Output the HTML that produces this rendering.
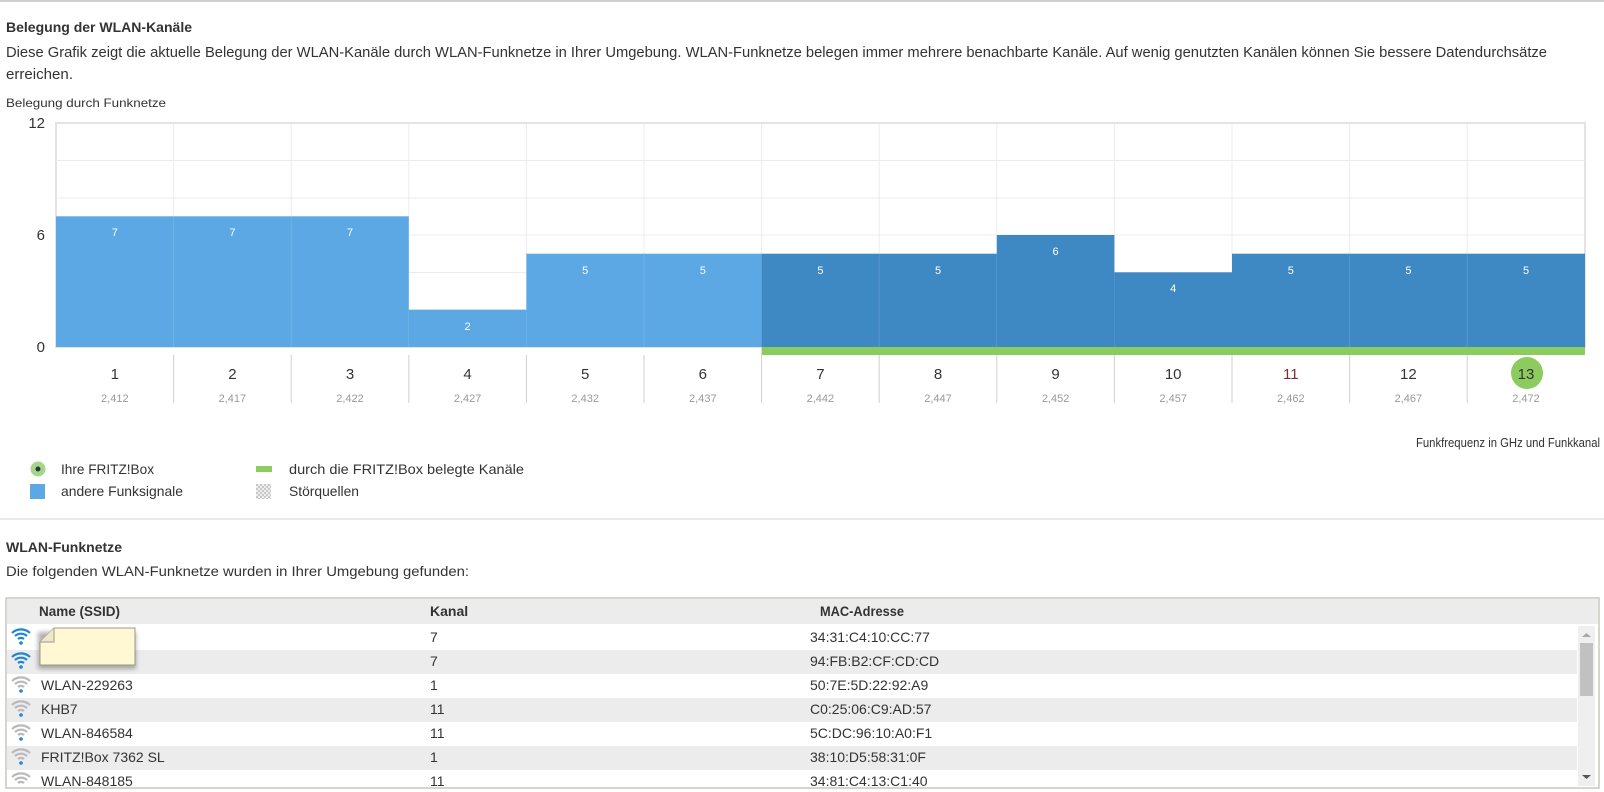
<!DOCTYPE html>
<html><head><meta charset="utf-8"><style>
html,body{margin:0;padding:0;background:#fff;width:1604px;height:792px;overflow:hidden}
svg{display:block;font-family:"Liberation Sans",sans-serif}
</style></head><body>
<svg width="1604" height="792" viewBox="0 0 1604 792" xmlns="http://www.w3.org/2000/svg">
<line x1="0" y1="1" x2="1604" y2="1" stroke="#d0d0d0" stroke-width="2"/>
<text x="6" y="32" font-size="14" font-weight="bold" fill="#333" textLength="186" lengthAdjust="spacingAndGlyphs">Belegung der WLAN-Kanäle</text>
<text x="6" y="57" font-size="15" fill="#333" textLength="1541" lengthAdjust="spacingAndGlyphs">Diese Grafik zeigt die aktuelle Belegung der WLAN-Kanäle durch WLAN-Funknetze in Ihrer Umgebung. WLAN-Funknetze belegen immer mehrere benachbarte Kanäle. Auf wenig genutzten Kanälen können Sie bessere Datendurchsätze</text>
<text x="6" y="79" font-size="15" fill="#333" textLength="67" lengthAdjust="spacingAndGlyphs">erreichen.</text>
<text x="6" y="107" font-size="12" fill="#333" textLength="160" lengthAdjust="spacingAndGlyphs">Belegung durch Funknetze</text>
<g font-size="15" fill="#333" text-anchor="end">
<text x="45" y="128">12</text><text x="45" y="240">6</text><text x="45" y="352">0</text>
</g>
<g id="chart">
<rect x="56" y="123" width="1529" height="224" fill="#fff" stroke="#e3e3e3" stroke-width="2"/>
<g stroke="#ececec" stroke-width="1">
<line x1="56" y1="160.5" x2="1585" y2="160.5"/><line x1="56" y1="198" x2="1585" y2="198"/><line x1="56" y1="235" x2="1585" y2="235"/><line x1="56" y1="272.5" x2="1585" y2="272.5"/><line x1="56" y1="310" x2="1585" y2="310"/>
<line x1="173.6" y1="123" x2="173.6" y2="347"/><line x1="291.2" y1="123" x2="291.2" y2="347"/><line x1="408.8" y1="123" x2="408.8" y2="347"/><line x1="526.4" y1="123" x2="526.4" y2="347"/><line x1="644" y1="123" x2="644" y2="347"/><line x1="761.6" y1="123" x2="761.6" y2="347"/><line x1="879.2" y1="123" x2="879.2" y2="347"/><line x1="996.8" y1="123" x2="996.8" y2="347"/><line x1="1114.4" y1="123" x2="1114.4" y2="347"/><line x1="1232" y1="123" x2="1232" y2="347"/><line x1="1349.6" y1="123" x2="1349.6" y2="347"/><line x1="1467.2" y1="123" x2="1467.2" y2="347"/>
</g>
<g fill="#5ba8e4">
<rect x="56" y="216.3" width="352.8" height="130.7"/>
<rect x="408.8" y="309.7" width="117.6" height="37.3"/>
<rect x="526.4" y="253.7" width="235.2" height="93.3"/>
</g>
<g fill="#3e88c4">
<rect x="761.6" y="253.7" width="235.2" height="93.3"/>
<rect x="996.8" y="235" width="117.6" height="112"/>
<rect x="1114.4" y="272.3" width="117.6" height="74.7"/>
<rect x="1232" y="253.7" width="353" height="93.3"/>
</g>
<g stroke="#ffffff" stroke-opacity="0.12">
<line x1="173.6" y1="216" x2="173.6" y2="347"/><line x1="291.2" y1="216" x2="291.2" y2="347"/><line x1="644" y1="254" x2="644" y2="347"/><line x1="879.2" y1="254" x2="879.2" y2="347"/><line x1="1349.6" y1="254" x2="1349.6" y2="347"/><line x1="1467.2" y1="254" x2="1467.2" y2="347"/>
</g>
<rect x="761.6" y="347" width="823.4" height="8" fill="#8ccc5f"/>
<g font-size="11" fill="#fff" text-anchor="middle">
<text x="114.8" y="236">7</text><text x="232.4" y="236">7</text><text x="350" y="236">7</text><text x="467.6" y="330">2</text><text x="585.2" y="274">5</text><text x="702.8" y="274">5</text><text x="820.4" y="274">5</text><text x="938" y="274">5</text><text x="1055.6" y="255">6</text><text x="1173.2" y="292">4</text><text x="1290.8" y="274">5</text><text x="1408.4" y="274">5</text><text x="1526" y="274">5</text>
</g>
<g stroke="#cfcfcf">
<line x1="173.6" y1="355" x2="173.6" y2="403"/><line x1="291.2" y1="355" x2="291.2" y2="403"/><line x1="408.8" y1="355" x2="408.8" y2="403"/><line x1="526.4" y1="355" x2="526.4" y2="403"/><line x1="644" y1="355" x2="644" y2="403"/><line x1="761.6" y1="355" x2="761.6" y2="403"/><line x1="879.2" y1="355" x2="879.2" y2="403"/><line x1="996.8" y1="355" x2="996.8" y2="403"/><line x1="1114.4" y1="355" x2="1114.4" y2="403"/><line x1="1232" y1="355" x2="1232" y2="403"/><line x1="1349.6" y1="355" x2="1349.6" y2="403"/><line x1="1467.2" y1="355" x2="1467.2" y2="403"/>
</g>
<circle cx="1527" cy="373" r="16" fill="#8ccc5f"/>
<g font-size="15" fill="#333" text-anchor="middle">
<text x="114.8" y="379">1</text><text x="232.4" y="379">2</text><text x="350" y="379">3</text><text x="467.6" y="379">4</text><text x="585.2" y="379">5</text><text x="702.8" y="379">6</text><text x="820.4" y="379">7</text><text x="938" y="379">8</text><text x="1055.6" y="379">9</text><text x="1173.2" y="379">10</text><text x="1290.8" y="379" fill="#7a3030">11</text><text x="1408.4" y="379">12</text><text x="1526" y="379">13</text>
</g>
<g font-size="11" fill="#9a9a9a" text-anchor="middle">
<text x="114.8" y="402">2,412</text><text x="232.4" y="402">2,417</text><text x="350" y="402">2,422</text><text x="467.6" y="402">2,427</text><text x="585.2" y="402">2,432</text><text x="702.8" y="402">2,437</text><text x="820.4" y="402">2,442</text><text x="938" y="402">2,447</text><text x="1055.6" y="402">2,452</text><text x="1173.2" y="402">2,457</text><text x="1290.8" y="402">2,462</text><text x="1408.4" y="402">2,467</text><text x="1526" y="402">2,472</text>
</g>
</g>
<text x="1600" y="447" font-size="13" fill="#333" text-anchor="end" textLength="184" lengthAdjust="spacingAndGlyphs">Funkfrequenz in GHz und Funkkanal</text>
<circle cx="38" cy="469" r="7.5" fill="#a3d68a"/><circle cx="38" cy="469" r="2.5" fill="#333"/>
<text x="61" y="474" font-size="14" fill="#333" textLength="93" lengthAdjust="spacingAndGlyphs">Ihre FRITZ!Box</text>
<rect x="30" y="484" width="15" height="15" fill="#5ba8e4"/>
<text x="61" y="496" font-size="14" fill="#333" textLength="122" lengthAdjust="spacingAndGlyphs">andere Funksignale</text>
<rect x="256" y="466" width="16" height="6" fill="#8ccc5f"/>
<text x="289" y="474" font-size="14" fill="#333" textLength="235" lengthAdjust="spacingAndGlyphs">durch die FRITZ!Box belegte Kanäle</text>
<defs><pattern id="chk" width="4" height="4" patternUnits="userSpaceOnUse"><rect width="4" height="4" fill="#eee"/><rect width="2" height="2" fill="#c8c8c8"/><rect x="2" y="2" width="2" height="2" fill="#c8c8c8"/></pattern>
<filter id="blur" x="-20%" y="-20%" width="140%" height="140%"><feGaussianBlur stdDeviation="2.5"/></filter></defs>
<rect x="256" y="484" width="15" height="15" fill="url(#chk)"/>
<text x="289" y="496" font-size="14" fill="#333" textLength="70" lengthAdjust="spacingAndGlyphs">Störquellen</text>
<line x1="0" y1="519" x2="1604" y2="519" stroke="#d6d6d6"/>
<text x="6" y="552" font-size="14" font-weight="bold" fill="#333" textLength="116" lengthAdjust="spacingAndGlyphs">WLAN-Funknetze</text>
<text x="6" y="576" font-size="14" fill="#333" textLength="463" lengthAdjust="spacingAndGlyphs">Die folgenden WLAN-Funknetze wurden in Ihrer Umgebung gefunden:</text>
<rect x="6" y="598" width="1593" height="190" fill="#fff" stroke="#c8c8c0" stroke-width="1.5"/>
<rect x="7" y="599" width="1591" height="25" fill="#ececec"/>
<g fill="#ececec"><rect x="7" y="650" width="1570" height="24"/><rect x="7" y="698" width="1570" height="24"/><rect x="7" y="746" width="1570" height="24"/></g>
<g font-size="14" fill="#333">
<text x="39" y="616" font-weight="bold" textLength="81" lengthAdjust="spacingAndGlyphs">Name (SSID)</text>
<text x="430" y="616" font-weight="bold">Kanal</text>
<text x="820" y="616" font-weight="bold" textLength="84" lengthAdjust="spacingAndGlyphs">MAC-Adresse</text>
</g>
<g font-size="14" fill="#333">
<text x="430" y="642">7</text><text x="810" y="642">34:31:C4:10:CC:77</text>
<text x="430" y="666">7</text><text x="810" y="666">94:FB:B2:CF:CD:CD</text>
<text x="41" y="690">WLAN-229263</text><text x="430" y="690">1</text><text x="810" y="690">50:7E:5D:22:92:A9</text>
<text x="41" y="714">KHB7</text><text x="430" y="714">11</text><text x="810" y="714">C0:25:06:C9:AD:57</text>
<text x="41" y="738">WLAN-846584</text><text x="430" y="738">11</text><text x="810" y="738">5C:DC:96:10:A0:F1</text>
<text x="41" y="762">FRITZ!Box 7362 SL</text><text x="430" y="762">1</text><text x="810" y="762">38:10:D5:58:31:0F</text>
<text x="41" y="786">WLAN-848185</text><text x="430" y="786">11</text><text x="810" y="786">34:81:C4:13:C1:40</text>
</g>
<defs>
<g id="wifi" fill="none" stroke-width="2.2">
<path d="M-9,-3 A13,13 0 0 1 9,-3"/><path d="M-6,0 A9,9 0 0 1 6,0"/><path d="M-3,3 A4.5,4.5 0 0 1 3,3"/>
</g>
</defs>
<g stroke="#1f86d6"><use href="#wifi" x="21" y="636"/><use href="#wifi" x="21" y="660"/></g>
<circle cx="21" cy="643" r="1.8" fill="#1f86d6"/><circle cx="21" cy="667" r="1.8" fill="#1f86d6"/>
<g stroke="#b9b9b9"><use href="#wifi" x="21" y="684"/><use href="#wifi" x="21" y="708"/><use href="#wifi" x="21" y="732"/><use href="#wifi" x="21" y="756"/><use href="#wifi" x="21" y="780"/></g>
<g fill="#1f86d6"><circle cx="21" cy="691" r="1.8"/><circle cx="21" cy="715" r="1.8"/><circle cx="21" cy="739" r="1.8"/><circle cx="21" cy="763" r="1.8"/></g>
<rect x="38" y="632" width="98" height="37" fill="#000" opacity="0.3" filter="url(#blur)"/>
<path d="M54,628 L135,628 L135,665 L40,665 L40,642 Z" fill="#fff8d2" stroke="#9a9a90"/>
<path d="M40,642 L54,642 L54,628" fill="#eee9c8" stroke="#9a9a90"/>
<rect x="1578" y="626" width="17" height="160" fill="#efefef"/>
<rect x="1580" y="643" width="13" height="53" fill="#c1c1c1"/>
<path d="M1582,637 L1586.5,633 L1591,637 Z" fill="#a8a8a8"/>
<path d="M1582,775 L1586.5,779 L1591,775 Z" fill="#555"/>
</svg>
</body></html>
